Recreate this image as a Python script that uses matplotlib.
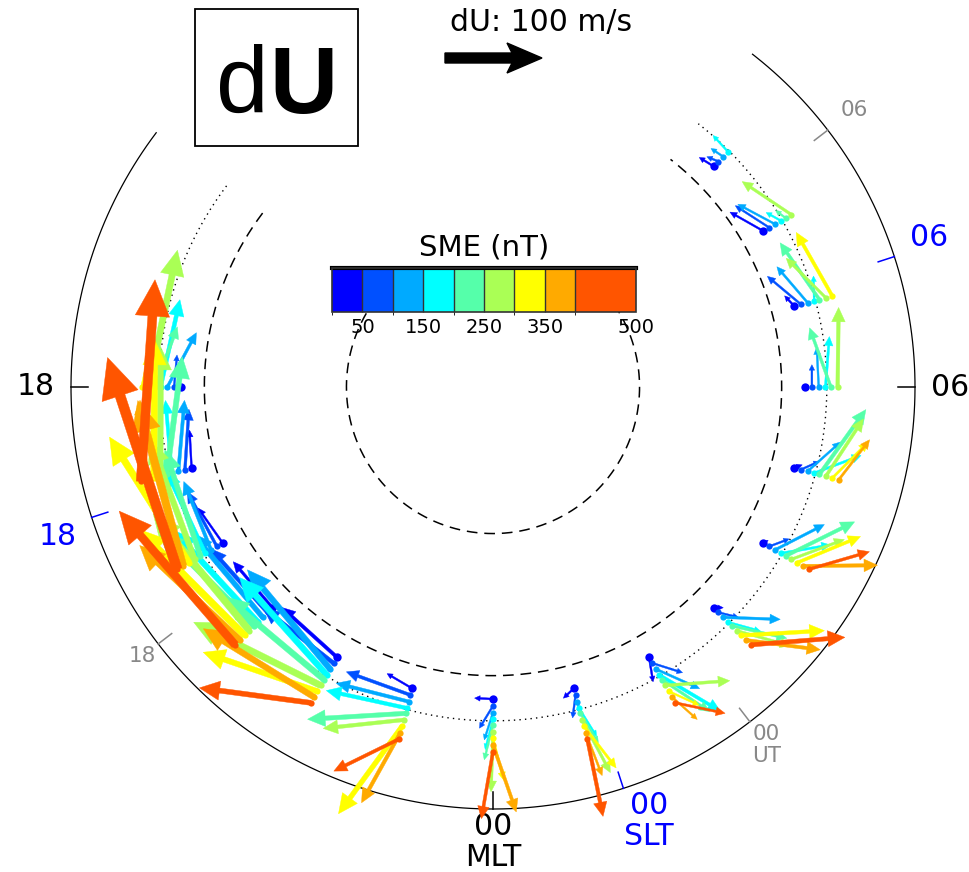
import numpy as np
import matplotlib
matplotlib.use("Agg")
import matplotlib.pyplot as plt
from matplotlib import colors, cm
from matplotlib.patches import FancyArrow, Polygon, Rectangle

plt.rcParams['font.family'] = ['DejaVu Sans']

# ================= DATA =================
nan = np.nan
mlt_bins = [0, 1, 2, 3, 4, 5, 6, 7, 8, 9, 18, 19, 20, 21, 22, 23]
sme_edges = [0, 50, 100, 150, 200, 250, 300, 350, 400, 500]
sme_mid = [25, 75, 125, 175, 225, 275, 325, 375, 450]
sme_ticks = [50, 150, 250, 350, 500]
sme_colors = ['#0000ff', '#0050ff', '#00aaff', '#00ffff', '#55ffaa',
              '#aaff55', '#ffff00', '#ffaa00', '#ff5500']
# MLAT of the arrow base for each SME bin
base_mlat = [68.3, 67.8, 67.3, 66.8, 66.4, 65.9, 65.4, 64.9, 64.4]

# dU eastward / northward (m/s); rows = mlt_bins, cols = SME bins
dU_east = [
    [-19, -14, -9, -8, -9, -2, 11, 24, -12],
    [-13, -9, 0, 10, 10, 14, 21, 5, -5],
    [-9, 22, 29, 36, 26, 60, 20, 11, 39],
    [7, 11, 40, 17, 31, 28, 64, 47, 74],
    [5, 17, 48, 33, 66, 45, 56, 39, 47],
    [5, 13, 38, 30, 77, 67, 45, 48, nan],
    [2, 23, 41, 52, 61, 82, nan, nan, nan],
    [13, 37, 44, 25, 67, 50, 73, nan, nan],
    [34, 37, 37, 15, 12, 55, nan, nan, nan],
    [17, 12, 15, 23, nan, nan, nan, nan, nan],
    [-3, -33, -56, -90, -62, -141, -41, nan, nan],
    [-38, -59, -69, -74, -113, -129, -137, -81, -197],
    [-44, -64, -75, -94, -113, -129, -153, -171, -225],
    [-62, -88, -113, -129, -139, -155, -155, -142, -182],
    [-75, -91, -125, -128, -131, -146, -122, -134, -107],
    [-29, -70, -77, -85, -96, -78, -40, -20, -56],
]
dU_north = [
    [1, -23, -28, -31, -36, -62, -43, -69, -69],
    [-7, -22, -13, -33, -34, -60, -50, -47, -81],
    [-24, -24, -40, -64, -53, -29, -28, -33, -35],
    [-7, -18, -43, -30, -49, -50, -57, -61, -63],
    [-3, -14, -31, -40, -44, -37, -43, -66, -45],
    [-7, -16, -25, -42, -29, -22, -26, -20, nan],
    [0, 0, 2, -4, 22, -1, nan, nan, nan],
    [7, 26, 21, -6, 24, 29, 19, nan, nan],
    [20, 19, 23, 9, 5, 27, nan, nan, nan],
    [4, 5, 3, -1, nan, nan, nan, nan, nan],
    [-4, 3, 30, 20, 23, 30, 9, nan, nan],
    [8, 20, 25, 13, 47, 35, 38, 14, 68],
    [-4, 2, 11, 8, 23, 22, -6, 45, 47],
    [5, 5, 10, 5, 0, 15, 0, -4, 13],
    [16, 13, 46, 42, 23, -9, -24, 4, -44],
    [8, 6, -1, -4, -32, -30, -104, -80, -49],
]

ref_speed = 100          # m/s, reference arrow
slt_offset = 1.2         # MLT - SLT (h)
ut_offset = 2.5          # MLT - UT (h)

# ================= GEOMETRY =================
R0 = 422.0               # radius of 60 MLAT in px
scale = 0.97             # px per m/s


def polar_xy(mlt, mlat):
    th = np.deg2rad((np.asarray(mlt, float) - 6) * 15)
    r = R0 * np.cos(np.deg2rad(mlat)) / np.cos(np.deg2rad(60))
    return r * np.cos(th), r * np.sin(th)


fig = plt.figure(figsize=(9.7, 8.72), dpi=100)
ax = fig.add_axes([0, 0, 1, 1])
ax.set_xlim(-493, 477)
ax.set_ylim(-485, 387)
ax.axis('off')

# ================= CIRCLES =================
arc_mlt = np.linspace(15.53, 33.47, 500)
x, y = polar_xy(arc_mlt, 60)
ax.plot(x, y, color='k', lw=0.9, zorder=1)
x, y = polar_xy(arc_mlt, 66.7)
ax.plot(x, y, color='k', lw=1.0, ls=(0, (1, 3)), zorder=1)
for lat in (70, 80):
    x, y = polar_xy(arc_mlt, lat)
    ax.plot(x, y, color='k', lw=1.1, ls=(0, (7, 4.5)), zorder=1)

# ================= TICKS / LABELS =================


def tick_label(mlt, text, color, size):
    th = np.deg2rad((mlt - 6) * 15)
    c, s = np.cos(th), np.sin(th)
    ax.plot([405 * c, R0 * c], [405 * s, R0 * s], color=color, lw=1.1, zorder=2)
    off = 3 if s < -0.5 else 16
    px, py = (R0 + off) * c, (R0 + off) * s
    ha = 'left' if c > 0.3 else ('right' if c < -0.3 else 'center')
    va = 'bottom' if s > 0.3 else ('top' if s < -0.3 else 'center')
    ax.text(px, py, text, color=color, fontsize=size, ha=ha, va=va,
            multialignment='center', linespacing=1.1)


for h, lab in [(0, '00\nMLT'), (6, '06'), (18, '18')]:
    tick_label(h, lab, 'black', 21.5)
for h, lab in [(0, '00\nSLT'), (6, '06'), (18, '18')]:
    tick_label(h + slt_offset, lab, '#0000ff', 21.5)
for h, lab in [(0, '00\nUT'), (6, '06'), (18, '18')]:
    tick_label(h + ut_offset, lab, '#888888', 15.5)

# ================= ARROWS =================
cmap = colors.ListedColormap(sme_colors)
norm = colors.BoundaryNorm(sme_edges, cmap.N)

for i, mlt in enumerate(mlt_bins):
    th = np.deg2rad((mlt - 6) * 15)
    for k in range(len(sme_mid)):
        e, n = dU_east[i][k], dU_north[i][k]
        if np.isnan(e):
            continue
        col = cmap(norm(sme_mid[k]))
        bx, by = polar_xy(mlt, base_mlat[k])
        dx = (-e * np.sin(th) - n * np.cos(th)) * scale
        dy = (e * np.cos(th) - n * np.sin(th)) * scale
        L = np.hypot(dx, dy)
        ax.plot(bx, by, 'o', ms=4.5 if k else 6, color=col, mec='none',
                zorder=3 + k)
        if L < 1:
            continue
        hl = min(max(0.18 * L, 5.5), L)
        hw = max(0.17 * L, 5.5)
        w = max(0.045 * L, 1.8)
        ax.add_patch(FancyArrow(bx, by, dx, dy, width=w, head_width=hw,
                                head_length=hl, length_includes_head=True,
                                color=col, lw=0.3, zorder=3 + k))

# ================= REFERENCE ARROW =================
x0, y0 = -48, 329
L = ref_speed * scale
ref = np.array([[0, 5], [L - 30, 5], [L - 35, 15], [L, 0], [L - 35, -15],
                [L - 30, -5], [0, -5]])
ax.add_patch(Polygon(ref + [x0, y0], closed=True, color='black', zorder=5))
ax.text(48, 364, 'dU: 100 m/s', fontsize=21.5, ha='center', va='center')

# ================= dU BOX =================
ax.add_patch(Rectangle((-298, 241), 163, 137, fill=False, lw=1.3,
                       edgecolor='black', zorder=5))
ax.text(-224, 274, 'd', fontsize=68, family='Liberation Sans',
        ha='right', va='baseline')
ax.text(-224, 274, 'U', fontsize=68, family='Liberation Sans',
        fontweight='bold', ha='left', va='baseline')

# ================= COLORBAR =================
cax = fig.add_axes([332 / 970, 1 - 312 / 872, 304 / 970, 44 / 872])
cax.set_facecolor('white')
cb = fig.colorbar(cm.ScalarMappable(norm=norm, cmap=cmap), cax=cax,
                  orientation='horizontal', spacing='proportional',
                  drawedges=True, ticks=sme_ticks)
cb.outline.set_edgecolor('#333333')
cb.outline.set_linewidth(1.2)
cb.dividers.set_color('#333333')
cb.dividers.set_linewidth(1.0)
cax.tick_params(length=0, labelsize=14, pad=4)
cax.plot([0, 1], [1, 1], transform=cax.transAxes, color='black', lw=3,
         clip_on=False)
cax.set_title('SME (nT)', fontsize=21, pad=9)

fig.savefig('out.png', dpi=100)
